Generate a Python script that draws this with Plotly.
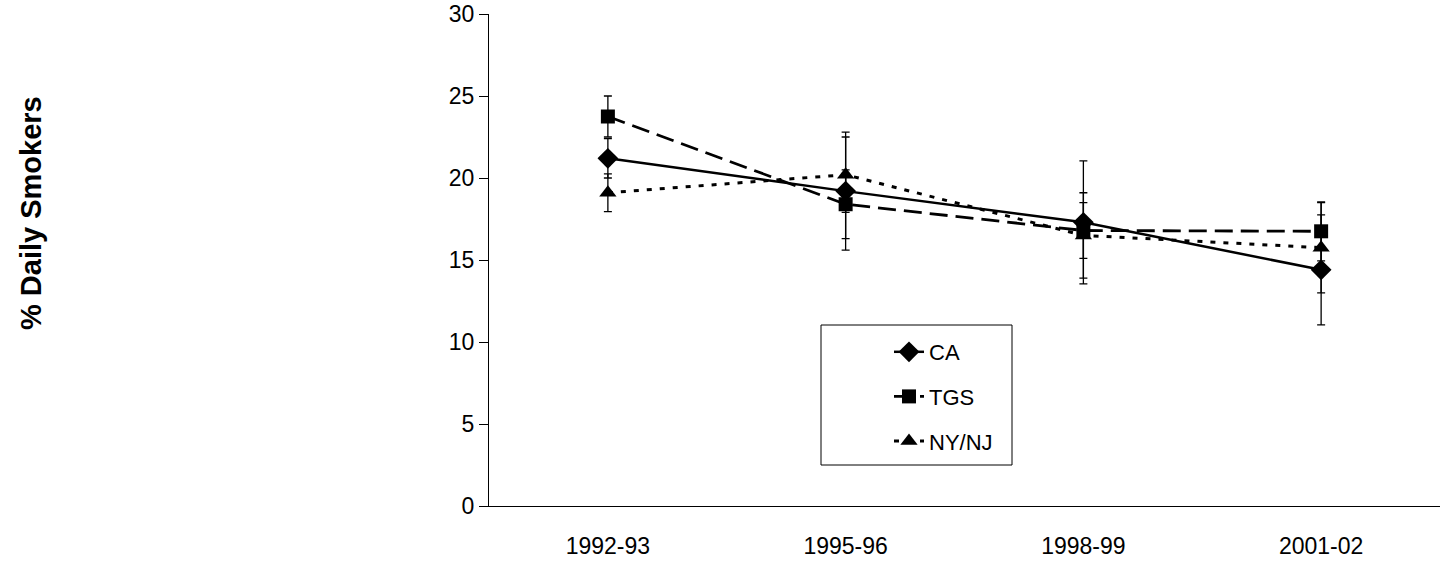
import plotly.graph_objects as go

# Survey periods
periods = ["1992-93", "1995-96", "1998-99", "2001-02"]

# Percent daily smokers by group, with confidence-interval half-widths
ca = [21.2, 19.2, 17.3, 14.4]
ca_err = [1.2, 3.6, 3.75, 3.35]

tgs = [23.75, 18.4, 16.8, 16.75]
tgs_err = [1.25, 2.1, 1.7, 1.8]

nynj = [19.1, 20.2, 16.5, 15.75]
nynj_err = [1.15, 2.3, 2.6, 2.75]

y_ticks = [0, 5, 10, 15, 20, 25, 30]

FONT = "Liberation Sans, Arial, sans-serif"

series = [
    ("CA", ca, ca_err, "solid", "diamond", 16, 2.5),
    ("TGS", tgs, tgs_err, "18px,8px", "square", 14, 2.8),
    ("NY/NJ", nynj, nynj_err, "5px,8px", "triangle-up", 15, 3),
]

fig = go.Figure()
for name, vals, err, dash, symbol, msize, lw in series:
    fig.add_trace(go.Scatter(
        x=periods, y=vals, name=name, mode="lines+markers",
        legendgroup=name,
        line=dict(color="black", width=lw, dash=dash),
        marker=dict(symbol=symbol, size=msize, color="black"),
        error_y=dict(type="data", array=err, visible=True,
                     color="black", thickness=1.3, width=4),
    ))

# Legend frame
fig.add_shape(type="rect", xref="paper", yref="paper",
              x0=(821 - 489) / 951, x1=(1012 - 489) / 951,
              y0=(506 - 465) / 492, y1=(506 - 325) / 492,
              line=dict(color="black", width=1), fillcolor="white", layer="below")

fig.add_annotation(
    text="<b>% Daily Smokers</b>", textangle=-90,
    xref="paper", yref="paper", x=(31 - 489) / 951, y=(506 - 213) / 492,
    xanchor="center", yanchor="middle", showarrow=False,
    font=dict(family=FONT, size=29, color="black"),
)

fig.update_layout(
    width=1443, height=563,
    margin=dict(l=489, r=3, t=14, b=57, autoexpand=False),
    paper_bgcolor="white", plot_bgcolor="white",
    font=dict(family=FONT, size=22, color="black"),
    showlegend=True,
    legend=dict(
        x=(889 - 489) / 951, y=(506 - 331) / 492,
        xanchor="left", yanchor="top",
        bgcolor="rgba(0,0,0,0)", borderwidth=0,
        font=dict(family=FONT, size=22, color="black"),
        tracegroupgap=13,
    ),
    xaxis=dict(
        type="category", range=[-0.5, 3.5], automargin=False,
        showline=True, linecolor="black", linewidth=1,
        ticks="", showgrid=False, zeroline=False,
        tickfont=dict(family=FONT, size=23),
        ticklabelstandoff=19,
    ),
    yaxis=dict(
        range=[0, 30], tickvals=y_ticks, automargin=False,
        showline=True, linecolor="black", linewidth=1,
        ticks="outside", ticklen=9, tickcolor="black",
        showgrid=False, zeroline=False,
        tickfont=dict(family=FONT, size=23),
    ),
)

fig.write_html("out.html")
